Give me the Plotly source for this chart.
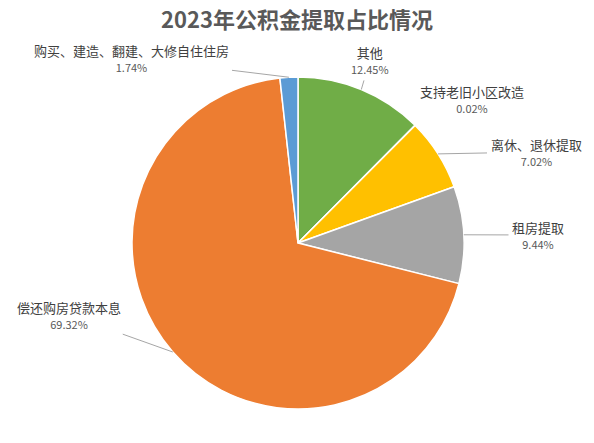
import numpy as np
import plotly.graph_objects as go

# Data (clockwise from 12 o'clock)
labels = ["其他", "支持老旧小区改造", "离休、退休提取", "租房提取", "偿还购房贷款本息", "购买、建造、翻建、大修自住住房"]
values = [12.45, 0.02, 7.02, 9.44, 69.32, 1.74]
colors = ["#70AD47", "#4472C4", "#FFC000", "#A5A5A5", "#ED7D31", "#5B9BD5"]

W, H = 594, 443
cx, cy, r = 298, 243, 166  # pie centre / radius in pixels (layout)

# label block centres in pixels (layout)
label_pos = [(370, 60), (472, 99), (536, 152), (538, 235), (69, 315), (131, 58)]
show_leader = [True, False, True, True, True, True]

fig = go.Figure(go.Pie(
    labels=labels, values=values, sort=False, direction="clockwise", rotation=0,
    marker=dict(colors=colors, line=dict(color="white", width=1.5)),
    textinfo="none", showlegend=False,
    domain=dict(x=[(cx - r) / W, (cx + r) / W], y=[1 - (cy + r) / H, 1 - (cy - r) / H]),
))

vals = np.array(values)
cum = np.cumsum(vals) - vals / 2
mid_angle = cum / vals.sum() * 2 * np.pi
for lab, v, ang, (tx, ty), lead in zip(labels, values, mid_angle, label_pos, show_leader):
    px = cx + r * np.sin(ang)
    py = cy - r * np.cos(ang)
    txt = (f"<span style='font-size:13px;color:#404040'>{lab}</span><br>"
           f"<span style='font-size:11px;color:#595959'>{v:.2f}%</span>")
    if lead:
        fig.add_annotation(x=px / W, y=1 - py / H, xref="paper", yref="paper",
                           ax=tx - px, ay=ty - py, text=txt, showarrow=True,
                           arrowhead=0, arrowwidth=1, arrowcolor="#A6A6A6",
                           standoff=0, startstandoff=2, align="center")
    else:
        fig.add_annotation(x=tx / W, y=1 - ty / H, xref="paper", yref="paper",
                           xanchor="center", yanchor="middle",
                           text=txt, showarrow=False, align="center")

fig.add_annotation(text="<b>2023年公积金提取占比情况</b>", x=0.5, y=1 - 18 / H,
                   xref="paper", yref="paper", xanchor="center", yanchor="middle",
                   showarrow=False,
                   font=dict(size=22, color="#595959", family="Noto Sans CJK SC"))

fig.update_layout(
    width=W, height=H, margin=dict(l=0, r=0, t=0, b=0),
    paper_bgcolor="white", plot_bgcolor="white",
    font=dict(family="Noto Sans CJK SC", color="#404040"),
)
fig.write_html("out.html", config={"displayModeBar": False},
               post_script="document.body.style.margin='0';document.body.style.overflow='hidden';")
